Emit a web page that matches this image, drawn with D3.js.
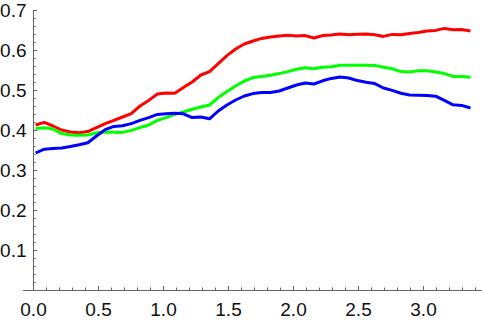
<!DOCTYPE html>
<html>
<head>
<meta charset="utf-8">
<script src="https://cdn.jsdelivr.net/npm/d3@7"></script>
<style>
  body { margin: 0; background: #fff; }
  text { font-family: 'Liberation Sans', Arial, sans-serif; }
</style>
</head>
<body>
<div id="chart"></div>
<script>
let width = 482
let height = 323

// sample grid: 51 evenly spaced times
let tStart = 0.02
let tStep = 0.0669
let times = d3.range(51).map(i => tStart + i * tStep)

let red = [
  0.4125, 0.419, 0.41, 0.40, 0.395, 0.393, 0.396, 0.406, 0.416, 0.424,
  0.4325, 0.441, 0.46, 0.474, 0.49, 0.4925, 0.492, 0.506, 0.52, 0.5375,
  0.546, 0.566, 0.586, 0.6025, 0.615, 0.6225, 0.629, 0.6325, 0.635, 0.637,
  0.635, 0.636, 0.63, 0.636, 0.6375, 0.64, 0.638, 0.6395, 0.64, 0.638,
  0.634, 0.639, 0.638, 0.641, 0.644, 0.6475, 0.649, 0.654, 0.6505, 0.651,
  0.6475
]

let green = [
  0.404, 0.4055, 0.4025, 0.391, 0.3875, 0.387, 0.3875, 0.393, 0.395, 0.3945,
  0.394, 0.399, 0.406, 0.4125, 0.424, 0.431, 0.439, 0.445, 0.452, 0.4575,
  0.4625, 0.481, 0.496, 0.51, 0.5225, 0.531, 0.534, 0.537, 0.541, 0.546,
  0.552, 0.5555, 0.553, 0.557, 0.558, 0.562, 0.562, 0.562, 0.562, 0.5615,
  0.557, 0.553, 0.546, 0.545, 0.548, 0.548, 0.545, 0.541, 0.534, 0.534,
  0.532
]

let blue = [
  0.3425, 0.352, 0.354, 0.355, 0.359, 0.363, 0.368, 0.385, 0.401, 0.409,
  0.4105, 0.416, 0.424, 0.431, 0.439, 0.4405, 0.442, 0.4405, 0.431, 0.4325,
  0.428, 0.4475, 0.4625, 0.475, 0.485, 0.491, 0.4935, 0.494, 0.4975, 0.505,
  0.5125, 0.5175, 0.515, 0.523, 0.529, 0.5325, 0.530, 0.5235, 0.5195, 0.516,
  0.505, 0.499, 0.4918, 0.4875, 0.487, 0.4865, 0.4845, 0.474, 0.463, 0.4615,
  0.455
]

let series = [
  { name: 'red', color: '#ff0000', values: red },
  { name: 'green', color: '#00ff00', values: green },
  { name: 'blue', color: '#0000ff', values: blue }
]

let xMajor = [0, 0.5, 1, 1.5, 2, 2.5, 3]
let xMinor = d3.range(0, 35).map(i => i / 10)
let yMajor = [0.1, 0.2, 0.3, 0.4, 0.5, 0.6, 0.7]
let yMinor = d3.range(1, 36).map(i => i / 50)

let xScale = d3.scaleLinear().domain([-0.08, 3.45]).range([22.6, 481.5])
let yScale = d3.scaleLinear().domain([0, 0.7]).range([290, 10])

let svg = d3
  .select('#chart')
  .append('svg')
  .attr('width', width)
  .attr('height', height)

// minor ticks
svg
  .append('g')
  .attr('transform', 'translate(0,290)')
  .call(d3.axisBottom(xScale).tickValues(xMinor).tickSize(-2.5).tickSizeOuter(0).tickFormat(''))
  .call(g => g.select('.domain').remove())
  .selectAll('line')
  .attr('stroke', '#666')

svg
  .append('g')
  .attr('transform', 'translate(33,0)')
  .call(d3.axisLeft(yScale).tickValues(yMinor).tickSize(-2.5).tickSizeOuter(0).tickFormat(''))
  .call(g => g.select('.domain').remove())
  .selectAll('line')
  .attr('stroke', '#666')

// major ticks + labels
let xAxis = svg
  .append('g')
  .attr('transform', 'translate(0,290)')
  .call(
    d3.axisBottom(xScale)
      .tickValues(xMajor)
      .tickSize(-4)
      .tickSizeOuter(0)
      .tickPadding(12.5)
      .tickFormat(d3.format('.1f'))
  )

let yAxis = svg
  .append('g')
  .attr('transform', 'translate(33,0)')
  .call(
    d3.axisLeft(yScale)
      .tickValues(yMajor)
      .tickSize(-4)
      .tickSizeOuter(0)
      .tickPadding(6.5)
      .tickFormat(d3.format('.1f'))
  )

;[xAxis, yAxis].forEach(ax => {
  ax.select('.domain').attr('stroke', '#666')
  ax.selectAll('line').attr('stroke', '#666')
  ax.selectAll('text')
    .attr('fill', '#111')
    .attr('font-size', 19)
    .attr('font-family', "'Liberation Sans', Arial, sans-serif")
})

let line = d3
  .line()
  .x((d, i) => xScale(times[i]))
  .y(d => yScale(d))

svg
  .selectAll('.series')
  .data(series)
  .enter()
  .append('path')
  .attr('class', 'series')
  .attr('d', d => line(d.values))
  .attr('fill', 'none')
  .attr('stroke', d => d.color)
  .attr('stroke-width', 3)
  .attr('stroke-linejoin', 'round')
</script>
</body>
</html>
